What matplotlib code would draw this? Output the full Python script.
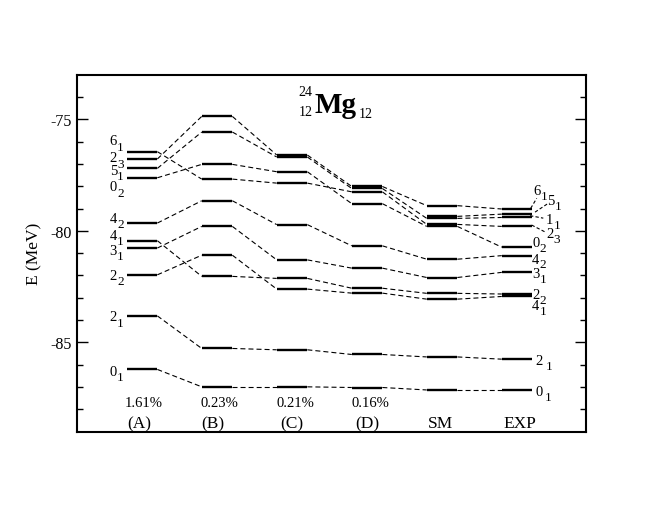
import numpy as np
import matplotlib
matplotlib.use('Agg')
import matplotlib.pyplot as plt

plt.rcParams['font.family'] = ['Liberation Serif', 'DejaVu Serif']
plt.rcParams['axes.unicode_minus'] = False

# ---------------- data ----------------
columns = ['(A)', '(B)', '(C)', '(D)', 'SM', 'EXP']
percents = ['1.61%', '0.23%', '0.21%', '0.16%', '', '']
nan = np.nan
# each track: level energy (MeV) in columns A, B, C, D, SM, EXP (connected by dashes)
track_a = [-76.45, -77.68, -77.86, -78.25, -79.71, -79.80]
track_b = [-76.78, -74.87, -76.60, -78.01, -78.87, -79.02]
track_c = [-77.20, -75.57, -76.69, -78.10, -79.44, -79.40]
track_d = [-77.62, -77.02, -77.35, -78.78, -79.80, -80.73]
track_e = [nan, nan, nan, nan, -79.35, -79.25]
track_f = [-79.65, -78.65, -79.72, -80.67, -81.27, -81.11]
track_g = [-80.77, -79.80, -81.30, -81.67, -82.09, -81.86]
track_h = [-81.97, -81.09, -82.61, -82.79, -83.06, -82.94]
track_i = [-80.44, -82.04, -82.13, -82.57, -82.80, -82.83]
track_j = [-83.81, -85.27, -85.33, -85.54, -85.65, -85.75]
track_k = [-86.21, -86.99, -86.99, -87.02, -87.13, -87.13]
tracks = [track_a, track_b, track_c, track_d, track_e, track_f,
          track_g, track_h, track_i, track_j, track_k]

left_spin = ['6', '2', '5', '0', '4', '4', '3', '2', '2', '0']
left_index = ['1', '3', '1', '2', '2', '1', '1', '2', '1', '1']
right_spin = ['6', '5', '1', '2', '0', '4', '3', '2', '4', '2', '0']
right_index = ['1', '1', '1', '3', '2', '2', '1', '2', '1', '1', '1']

# ---------------- layout ----------------
left_label_y = [-76.11, -76.86, -77.43, -78.17, -79.58, -80.35, -81.02, -82.14, -84.00, -86.44]
right_label_x = [6.213, 6.404, 6.386, 6.386, 6.2, 6.2, 6.2, 6.2, 6.2, 6.24, 6.24]
right_sub_dx = [0.093, 0.093, 0.093, 0.093, 0.093, 0.093, 0.093, 0.093, 0.093, 0.14, 0.13]
right_label_y = [-78.33, -78.81, -79.63, -80.27, -80.66, -81.42, -82.05, -82.99, -83.52, -85.95, -87.37]
leaders = [((6.182, -78.99), (6.262, -78.54)),
           ((6.24, -79.16), (6.40, -78.80)),
           ((6.173, -79.32), (6.35, -79.43)),
           ((6.195, -79.74), (6.386, -80.07))]
col_label_x = [0.96, 1.95, 2.996, 4.0, 4.973, 6.04]
pct_x = [1.017, 2.033, 3.04, 4.04]
sub_dy = 0.26

fig = plt.figure(figsize=(6.6, 5.1), dpi=100)
ax = fig.add_axes([0.1167, 0.1516, 0.7708, 0.70])

xpos = np.arange(1, len(columns) + 1)
half = 0.204
for tr in tracks:
    tr = np.asarray(tr, dtype=float)
    for x, e in zip(xpos, tr):
        if not np.isnan(e):
            ax.plot([x - half, x + half], [e, e], color='black', lw=1.7,
                    solid_capstyle='butt')
    for i in range(len(xpos) - 1):
        if not np.isnan(tr[i]) and not np.isnan(tr[i + 1]):
            ax.plot([xpos[i] + half, xpos[i + 1] - half], [tr[i], tr[i + 1]],
                    color='black', lw=0.8, dashes=(4.5, 2.75))

for s, n, y in zip(left_spin, left_index, left_label_y):
    ax.text(0.568, y, s, ha='left', va='baseline', fontsize=10.5)
    ax.text(0.668, y - sub_dy, n, ha='left', va='baseline', fontsize=9.5)
for s, n, x, dx, y in zip(right_spin, right_index, right_label_x, right_sub_dx, right_label_y):
    ax.text(x, y, s, ha='left', va='baseline', fontsize=10.5)
    ax.text(x + dx + 0.005, y - sub_dy * 0.85, n, ha='left', va='baseline', fontsize=9.5)
for (p0, p1) in leaders:
    ax.plot([p0[0], p1[0]], [p0[1], p1[1]], color='black', lw=0.8, dashes=(3, 2))

for x, p in zip(pct_x, percents):
    ax.text(x, -87.86, p, ha='center', va='baseline', fontsize=10.5)
for x, c in zip(col_label_x, columns):
    ax.text(x, -88.81, c, ha='center', va='baseline', fontsize=12.5)

# title 24/12 Mg 12
ax.text(3.273, -73.74, '24', ha='right', va='center', fontsize=10)
ax.text(3.273, -74.63, '12', ha='right', va='center', fontsize=10)
ax.text(3.300, -74.66, 'Mg', ha='left', va='baseline', fontsize=21, fontweight='bold')
ax.text(3.884, -74.76, '12', ha='left', va='center', fontsize=10)

ax.set_xlim(0.133, 6.916)
ax.set_ylim(-89, -73)
ax.set_yticks([-85, -80, -75])
ax.set_yticks(np.arange(-88, -73, 1), minor=True)
ax.set_xticks([])
ax.tick_params(axis='y', which='both', direction='in', right=True, left=True)
ax.tick_params(axis='y', which='major', length=7.7, width=1.0, pad=3.6, labelsize=11.5)
ax.tick_params(axis='y', which='minor', length=4.0, width=1.0)
for s in ax.spines.values():
    s.set_linewidth(1.5)
ax.set_ylabel('E (MeV)', fontsize=12.5)
ax.yaxis.set_label_coords(-0.069, 0.5)

fig.savefig('out.png', dpi=100)
